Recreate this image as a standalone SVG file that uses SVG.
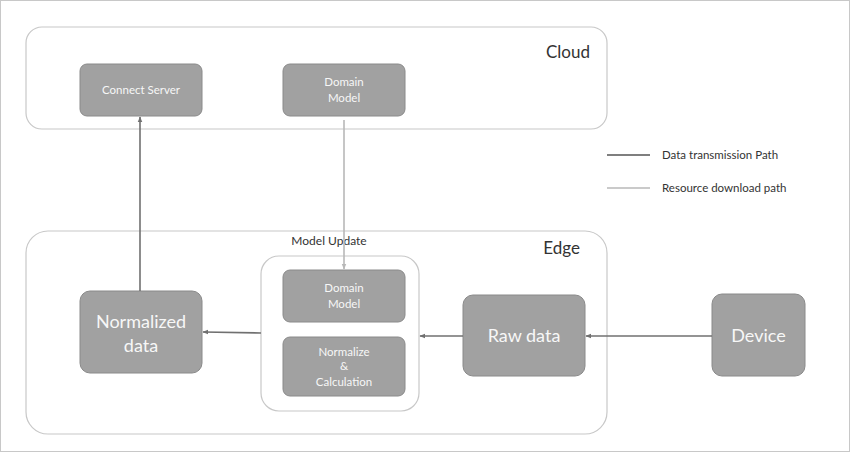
<svg xmlns="http://www.w3.org/2000/svg" width="850" height="452" viewBox="0 0 850 452">
<defs>
<style>
.frame{fill:#fff;stroke:#c8c8c8;stroke-width:1}
.cont{fill:#fff;stroke:#c8c8c8;stroke-width:1.2}
.node{fill:#a1a1a1;stroke:#8a8a8a;stroke-width:1}
.t{font-family:Lato,"Open Sans",sans-serif;fill:#f7f7f7;text-anchor:middle}
.s{font-size:11.5px}
.b{font-size:18px}
.lbl{font-family:Lato,"Open Sans",sans-serif;fill:#333}
.dark{stroke:#707070;stroke-width:1.6;fill:none}
.light{stroke:#b8b8b8;stroke-width:1.6;fill:none}
</style>
<marker id="ad" viewBox="0 0 10 10" refX="9" refY="5" markerWidth="6" markerHeight="6" orient="auto" markerUnits="userSpaceOnUse"><path d="M0,1 L10,5 L0,9 z" fill="#707070"/></marker>
<marker id="al" viewBox="0 0 10 10" refX="9" refY="5" markerWidth="6" markerHeight="6" orient="auto" markerUnits="userSpaceOnUse"><path d="M0,1 L10,5 L0,9 z" fill="#b8b8b8"/></marker>
</defs>
<rect class="frame" x="0.5" y="0.5" width="849" height="451"/>
<g id="cloud">
<rect class="cont" x="26" y="27" width="581" height="102" rx="16"/>
<text class="lbl" x="590" y="58" font-size="17" text-anchor="end">Cloud</text>
</g>
<g id="edge">
<rect class="cont" x="26" y="231" width="581" height="203" rx="22"/>
<text class="lbl" x="580" y="254" font-size="17" text-anchor="end">Edge</text>
</g>
<g id="model-update">
<rect class="cont" x="261" y="256" width="158" height="155" rx="18"/>
<text class="lbl" x="329" y="245" font-size="12" text-anchor="middle">Model Update</text>
</g>
<g id="connect-server">
<rect class="node" x="80" y="64" width="122" height="52" rx="7"/>
<text class="t s" x="141" y="94">Connect Server</text>
</g>
<g id="domain-model-cloud">
<rect class="node" x="283" y="64" width="122" height="52" rx="7"/>
<text class="t s" x="344" y="86">Domain</text>
<text class="t s" x="344" y="102">Model</text>
</g>
<g id="domain-model-edge">
<rect class="node" x="283" y="270" width="122" height="52" rx="7"/>
<text class="t s" x="344" y="292">Domain</text>
<text class="t s" x="344" y="308">Model</text>
</g>
<g id="normalize-calc">
<rect class="node" x="283" y="337" width="122" height="59" rx="7"/>
<text class="t s" x="344" y="356">Normalize</text>
<text class="t s" x="344" y="370">&amp;</text>
<text class="t s" x="344" y="386">Calculation</text>
</g>
<g id="normalized-data">
<rect class="node" x="80" y="291" width="122" height="82" rx="10"/>
<text class="t b" x="141" y="328">Normalized</text>
<text class="t b" x="141" y="352">data</text>
</g>
<g id="raw-data">
<rect class="node" x="463" y="295" width="122" height="81" rx="10"/>
<text class="t b" x="524" y="342">Raw data</text>
</g>
<g id="device">
<rect class="node" x="712" y="294" width="93" height="82" rx="10"/>
<text class="t b" x="758.5" y="342">Device</text>
</g>
<g id="legend">
<line x1="607" y1="155" x2="650" y2="155" stroke="#555" stroke-width="1.3"/>
<text class="lbl" x="662" y="159" font-size="11.5">Data transmission Path</text>
<line x1="607" y1="188" x2="650" y2="188" stroke="#b8b8b8" stroke-width="1.3"/>
<text class="lbl" x="662" y="192" font-size="11.5">Resource download path</text>
</g>
<g id="connectors">
<line class="dark" x1="140" y1="291" x2="140" y2="117" marker-end="url(#ad)"/>
<line class="light" x1="344" y1="120" x2="344" y2="269" marker-end="url(#al)"/>
<line class="dark" x1="261" y1="333" x2="203" y2="332" marker-end="url(#ad)"/>
<line class="dark" x1="463" y1="336" x2="420" y2="336" marker-end="url(#ad)"/>
<line class="dark" x1="712" y1="336" x2="586" y2="336" marker-end="url(#ad)"/>
</g>
</svg>
